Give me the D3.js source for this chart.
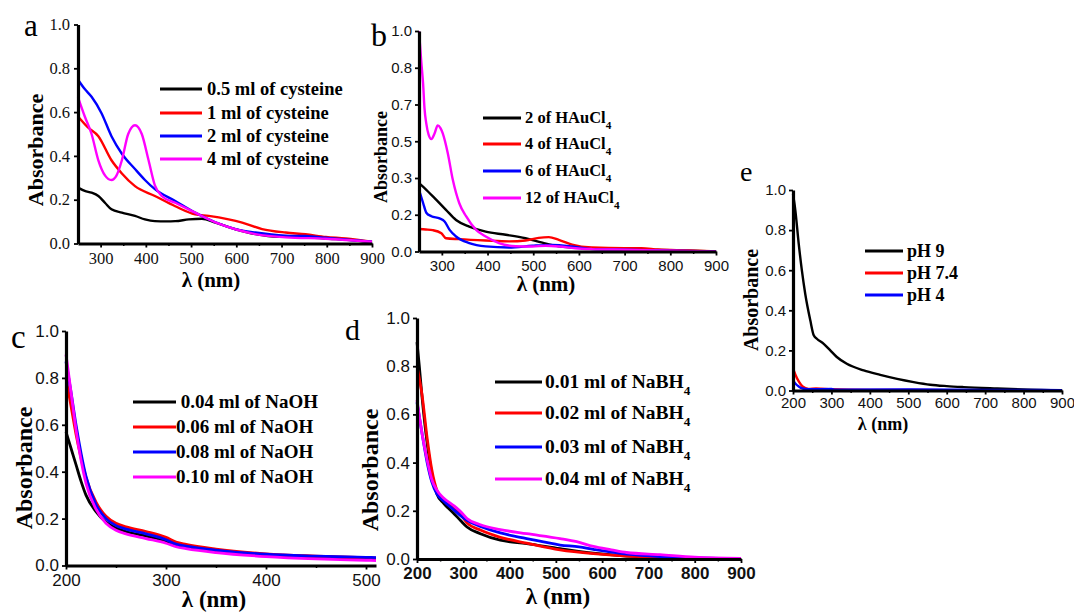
<!DOCTYPE html>
<html>
<head>
<meta charset="utf-8">
<script src="https://cdn.jsdelivr.net/npm/d3@7"></script>
<style>
  html, body { margin: 0; padding: 0; background: #fff; }
  svg { display: block; }
</style>
</head>
<body>
<svg id="fig" width="1074" height="612"></svg>
<script>
// ---- Spectra: [wavelength (nm), absorbance] ----

// (a) cysteine volume series
const cys05 = [[250,0.255],[265,0.24],[280,0.232],[295,0.217],[310,0.185],[324,0.156],[347,0.141],[376,0.126],[398,0.11],[420,0.102],[445,0.101],[465,0.102],[495,0.11],[524,0.113],[554,0.095],[598,0.065],[642,0.043],[694,0.031],[746,0.03],[805,0.022],[850,0.016],[900,0.006]];
const cys1 = [[250,0.58],[272,0.53],[295,0.49],[324,0.38],[347,0.32],[376,0.262],[420,0.217],[465,0.17],[509,0.133],[539,0.126],[583,0.11],[613,0.095],[657,0.066],[709,0.05],[753,0.042],[798,0.03],[842,0.023],[900,0.008]];
const cys2 = [[250,0.748],[265,0.705],[280,0.67],[302,0.595],[324,0.49],[347,0.41],[376,0.34],[398,0.29],[420,0.248],[465,0.194],[509,0.141],[554,0.097],[598,0.066],[642,0.05],[709,0.036],[753,0.034],[798,0.026],[900,0.008]];
const cys4 = [[250,0.668],[265,0.58],[280,0.5],[295,0.38],[310,0.31],[324,0.29],[335,0.31],[347,0.38],[361,0.5],[376,0.54],[391,0.5],[406,0.38],[420,0.265],[435,0.217],[465,0.186],[509,0.141],[554,0.096],[598,0.065],[642,0.043],[709,0.028],[798,0.022],[900,0.008]];
const cysLabels = ["0.5 ml of cysteine","1 ml of cysteine","2 ml of cysteine","4 ml of cysteine"];

// (b) HAuCl4 series
const hau2 = [[250,0.31],[266,0.28],[288,0.234],[309,0.189],[331,0.143],[360,0.113],[396,0.09],[440,0.076],[483,0.06],[520,0.04],[556,0.024],[628,0.015],[700,0.011],[800,0.006],[900,0.0]];
const hau4 = [[250,0.102],[265,0.1],[280,0.097],[299,0.083],[309,0.06],[338,0.056],[396,0.05],[447,0.046],[483,0.05],[512,0.062],[534,0.065],[556,0.053],[585,0.031],[628,0.018],[700,0.015],[737,0.015],[773,0.009],[840,0.005],[900,0.0]];
const hau6 = [[250,0.28],[259,0.22],[266,0.176],[277,0.16],[295,0.15],[306,0.136],[317,0.098],[331,0.068],[360,0.038],[396,0.023],[447,0.018],[498,0.026],[541,0.03],[585,0.023],[628,0.011],[700,0.008],[800,0.004],[900,0.0]];
const hau12 = [[250,1.0],[255,0.86],[259,0.76],[262,0.65],[266,0.58],[271,0.53],[277,0.51],[284,0.535],[291,0.572],[297,0.56],[302,0.536],[313,0.446],[324,0.325],[338,0.22],[353,0.16],[375,0.098],[396,0.068],[425,0.038],[462,0.024],[498,0.023],[527,0.026],[556,0.023],[592,0.015],[628,0.011],[700,0.008],[773,0.005],[900,0.0]];
const hauLabels = ["2 of HAuCl","4 of HAuCl","6 of HAuCl","12 of HAuCl"];

// (c) NaOH series
const naoh04 = [[200,0.57],[205,0.5],[210,0.43],[215,0.36],[220,0.3],[230,0.23],[240,0.185],[250,0.16],[260,0.145],[280,0.125],[300,0.105],[310,0.086],[320,0.078],[350,0.063],[400,0.045],[450,0.037],[500,0.03],[510,0.029]];
const naoh06 = [[200,0.8],[205,0.68],[210,0.56],[215,0.46],[220,0.375],[230,0.27],[240,0.21],[250,0.18],[260,0.165],[280,0.145],[300,0.12],[310,0.1],[320,0.09],[350,0.07],[400,0.05],[450,0.04],[500,0.033],[510,0.032]];
const naoh08 = [[200,0.87],[205,0.74],[210,0.6],[215,0.48],[220,0.38],[230,0.26],[240,0.2],[250,0.17],[260,0.155],[280,0.135],[300,0.11],[310,0.091],[320,0.083],[350,0.066],[400,0.048],[450,0.04],[500,0.035],[510,0.034]];
const naoh10 = [[200,0.9],[205,0.74],[210,0.58],[215,0.45],[220,0.35],[230,0.24],[240,0.18],[250,0.15],[260,0.135],[280,0.115],[300,0.095],[310,0.08],[320,0.072],[350,0.055],[400,0.038],[450,0.028],[500,0.022],[510,0.021]];
const naohLabels = [" 0.04 ml of NaOH","0.06 ml of NaOH","0.08 ml of NaOH","0.10 ml of NaOH"];

// (d) NaBH4 series
const bh01 = [[200,0.9],[205,0.8],[211,0.67],[222,0.48],[232,0.355],[243,0.27],[258,0.23],[279,0.19],[294,0.16],[308,0.133],[337,0.105],[380,0.078],[437,0.064],[509,0.043],[581,0.024],[653,0.012],[725,0.006],[800,0.003],[900,0.0]];
const bh02 = [[200,0.8],[211,0.68],[222,0.5],[232,0.37],[243,0.285],[258,0.245],[279,0.21],[294,0.185],[308,0.15],[337,0.12],[380,0.09],[437,0.066],[509,0.038],[581,0.022],[653,0.012],[725,0.007],[800,0.004],[900,0.0]];
const bh03 = [[200,0.65],[211,0.52],[222,0.4],[232,0.32],[243,0.27],[258,0.24],[279,0.205],[294,0.18],[308,0.16],[337,0.135],[380,0.108],[437,0.085],[509,0.058],[550,0.05],[581,0.04],[653,0.02],[725,0.01],[800,0.005],[900,0.0]];
const bh04 = [[200,0.66],[211,0.52],[222,0.41],[232,0.33],[243,0.285],[258,0.252],[279,0.222],[294,0.197],[308,0.168],[337,0.142],[380,0.122],[437,0.105],[509,0.085],[545,0.072],[581,0.052],[620,0.038],[653,0.027],[725,0.018],[800,0.008],[900,0.002]];
const bhLabels = ["0.01 ml of NaBH","0.02 ml of NaBH","0.03 ml of NaBH","0.04 ml of NaBH"];

// (e) pH series
const ph9 = [[200,0.98],[206,0.9],[215,0.73],[223,0.6],[232,0.48],[245,0.35],[254,0.275],[262,0.258],[280,0.233],[297,0.2],[314,0.167],[340,0.133],[384,0.1],[427,0.078],[471,0.058],[514,0.042],[557,0.029],[600,0.022],[644,0.017],[731,0.01],[818,0.004],[900,0.0]];
const ph74 = [[200,0.11],[206,0.08],[215,0.045],[225,0.02],[240,0.008],[260,0.01],[300,0.006],[400,0.003],[600,0.002],[900,0.0]];
const ph4 = [[200,0.05],[206,0.035],[215,0.02],[225,0.01],[240,0.006],[300,0.008],[310,0.004],[500,0.005],[700,0.003],[900,0.002]];
const phLabels = ["pH 9","pH 7.4","pH 4"];

// Axis tick values
const ticksA_x = [300,400,500,600,700,800,900];
const ticksB_x = [300,400,500,600,700,800,900];
const ticksC_x = [200,300,400,500];
const ticksD_x = [200,300,400,500,600,700,800,900];
const ticksE_x = [200,300,400,500,600,700,800,900];
const ticksY_fifth = [0,0.2,0.4,0.6,0.8,1.0];
const ticksY_sixth = [0,1,2,3,4,5,6].map(k => k / 6);

const COLORS = ["#000000", "#ff0000", "#0000ff", "#ff00ff"];
const SERIF = "'Liberation Serif','Times New Roman',serif";
const SANS = "'Liberation Sans',Arial,sans-serif";

const svg = d3.select("#fig");

function drawPanel(cfg) {
  const g = svg.append("g");
  const x = d3.scaleLinear().domain(cfg.xDomain).range([cfg.left, cfg.right]);
  const y = d3.scaleLinear().domain([0, 1]).range([cfg.bottom, cfg.top]);

  // curves
  const line = d3.line()
    .x(d => x(d[0]))
    .y(d => y(d[1]))
    .curve(d3.curveMonotoneX);
  cfg.series.forEach((s, i) => {
    g.append("path")
      .datum(s)
      .attr("fill", "none")
      .attr("stroke", COLORS[i])
      .attr("stroke-width", cfg.lineWidth || 2.4)
      .attr("stroke-linejoin", "round")
      .attr("d", line);
  });

  // minor ticks
  const xStep = cfg.xTicks[1] - cfg.xTicks[0];
  const xMinor = d3.range(cfg.xDomain[0] + (cfg.xMinorStart || xStep / 2), cfg.xDomain[1] + 1, xStep / 2)
    .filter(v => !cfg.xTicks.includes(v));
  g.append("g")
    .attr("transform", `translate(0,${cfg.bottom})`)
    .call(d3.axisBottom(x).tickValues(xMinor).tickSize(2.5).tickSizeOuter(0).tickFormat(""))
    .call(a => a.select(".domain").remove())
    .call(a => a.selectAll("line").attr("stroke-width", 1.5));

  // x axis
  const gx = g.append("g")
    .attr("transform", `translate(0,${cfg.bottom})`)
    .call(d3.axisBottom(x).tickValues(cfg.xTicks).tickSize(4).tickSizeOuter(0)
      .tickPadding(cfg.xPad).tickFormat(d3.format("d")));
  gx.select(".domain").attr("stroke-width", 3.2);
  gx.selectAll(".tick line").attr("stroke-width", 1.8);
  gx.selectAll("text")
    .attr("font-family", cfg.tickFont)
    .attr("font-size", cfg.tickSize)
    .attr("font-weight", cfg.xBold ? "bold" : "normal")
    .attr("fill", "#111");

  // y axis
  const gy = g.append("g")
    .attr("transform", `translate(${cfg.left},0)`)
    .call(d3.axisLeft(y).tickValues(cfg.yTicks).tickSize(4).tickSizeOuter(0)
      .tickPadding(cfg.yPad).tickFormat(d3.format(".1f")));
  gy.select(".domain").attr("stroke-width", 3.2);
  gy.selectAll(".tick line").attr("stroke-width", 1.8);
  gy.selectAll("text")
    .attr("font-family", cfg.tickFont)
    .attr("font-size", cfg.tickSize)
    .attr("fill", "#111");

  // axis titles
  g.append("text")
    .attr("transform", `translate(${cfg.yTitle[0]},${cfg.yTitle[1]}) rotate(-90)`)
    .attr("text-anchor", "middle")
    .attr("dy", "0.35em")
    .attr("font-family", SERIF)
    .attr("font-weight", "bold")
    .attr("font-size", cfg.yTitle[2])
    .text("Absorbance");
  g.append("text")
    .attr("x", cfg.xTitle[0])
    .attr("y", cfg.xTitle[1])
    .attr("text-anchor", "middle")
    .attr("font-family", SERIF)
    .attr("font-weight", "bold")
    .attr("font-size", cfg.xTitle[2])
    .text("λ (nm)");

  // panel letter
  g.append("text")
    .attr("x", cfg.letter[0])
    .attr("y", cfg.letter[1])
    .attr("font-family", SERIF)
    .attr("font-size", cfg.letter[2])
    .text(cfg.letter[3]);

  // legend
  const L = cfg.legend;
  L.labels.forEach((lab, i) => {
    const yy = L.rows[i];
    g.append("line")
      .attr("x1", L.x1).attr("x2", L.x2)
      .attr("y1", yy).attr("y2", yy)
      .attr("stroke", COLORS[i])
      .attr("stroke-width", 3);
    const t = g.append("text")
      .attr("x", L.tx)
      .attr("y", yy)
      .attr("dy", "0.33em")
      .attr("font-family", SERIF)
      .attr("font-weight", "bold")
      .attr("font-size", L.size)
      .attr("xml:space", "preserve")
      .text(lab);
    if (L.sub) {
      t.append("tspan")
        .attr("dy", L.size * 0.32)
        .attr("font-size", L.size * 0.68)
        .text(L.sub);
    }
  });
}

// (a)
drawPanel({
  xDomain: [250, 900], left: 78, right: 372, top: 24.5, bottom: 243.5,
  xTicks: ticksA_x, yTicks: ticksY_fifth, xMinorStart: 0,
  tickFont: SERIF, tickSize: 16.5, xPad: 5, yPad: 4,
  series: [cys05, cys1, cys2, cys4],
  yTitle: [35, 150, 22], xTitle: [211, 287, 21],
  letter: [24, 36, 31, "a"],
  legend: { labels: cysLabels, x1: 160, x2: 202, tx: 207, rows: [89, 113, 136, 159], size: 18.5 }
});

// (b)
drawPanel({
  xDomain: [250, 900], left: 419, right: 716, top: 31, bottom: 251.5,
  xTicks: ticksB_x, yTicks: ticksY_sixth, xMinorStart: 0,
  tickFont: SANS, tickSize: 15, xPad: 5, yPad: 3,
  series: [hau2, hau4, hau6, hau12],
  yTitle: [381, 157, 18], xTitle: [546, 291, 21],
  letter: [371, 46, 32, "b"],
  legend: { labels: hauLabels, sub: "4", x1: 483, x2: 521, tx: 525, rows: [118, 144, 171, 198], size: 16.5 }
});

// (c)
drawPanel({
  xDomain: [200, 510], left: 66, right: 376, top: 331, bottom: 565.5,
  xTicks: ticksC_x, yTicks: ticksY_fifth,
  tickFont: SANS, tickSize: 17, xPad: 4, yPad: 3,
  series: [naoh04, naoh06, naoh08, naoh10], lineWidth: 2.8,
  yTitle: [24, 468, 24], xTitle: [214, 607, 23],
  letter: [11, 348, 33, "c"],
  legend: { labels: naohLabels, x1: 133, x2: 176, tx: 176, rows: [402, 427, 452, 477], size: 19 }
});

// (d)
drawPanel({
  xDomain: [200, 900], left: 417, right: 741, top: 318, bottom: 559,
  xTicks: ticksD_x, yTicks: ticksY_fifth,
  tickFont: SANS, tickSize: 17, xPad: 4, yPad: 3, xBold: true,
  series: [bh01, bh02, bh03, bh04], lineWidth: 2.8,
  yTitle: [370, 470, 24], xTitle: [558, 604, 23],
  letter: [345, 340, 30, "d"],
  legend: { labels: bhLabels, sub: "4", x1: 495, x2: 542, tx: 545, rows: [382, 413, 447, 479], size: 19.5 }
});

// (e)
drawPanel({
  xDomain: [200, 900], left: 793, right: 1062, top: 190, bottom: 390.5,
  xTicks: ticksE_x, yTicks: ticksY_fifth,
  tickFont: SANS, tickSize: 15, xPad: 3, yPad: 3,
  series: [ph9, ph74, ph4],
  yTitle: [751, 300, 20], xTitle: [883, 430, 18],
  letter: [740, 181, 28, "e"],
  legend: { labels: phLabels, x1: 865, x2: 903, tx: 907, rows: [251, 273, 295], size: 18 }
});
</script>
</body>
</html>
